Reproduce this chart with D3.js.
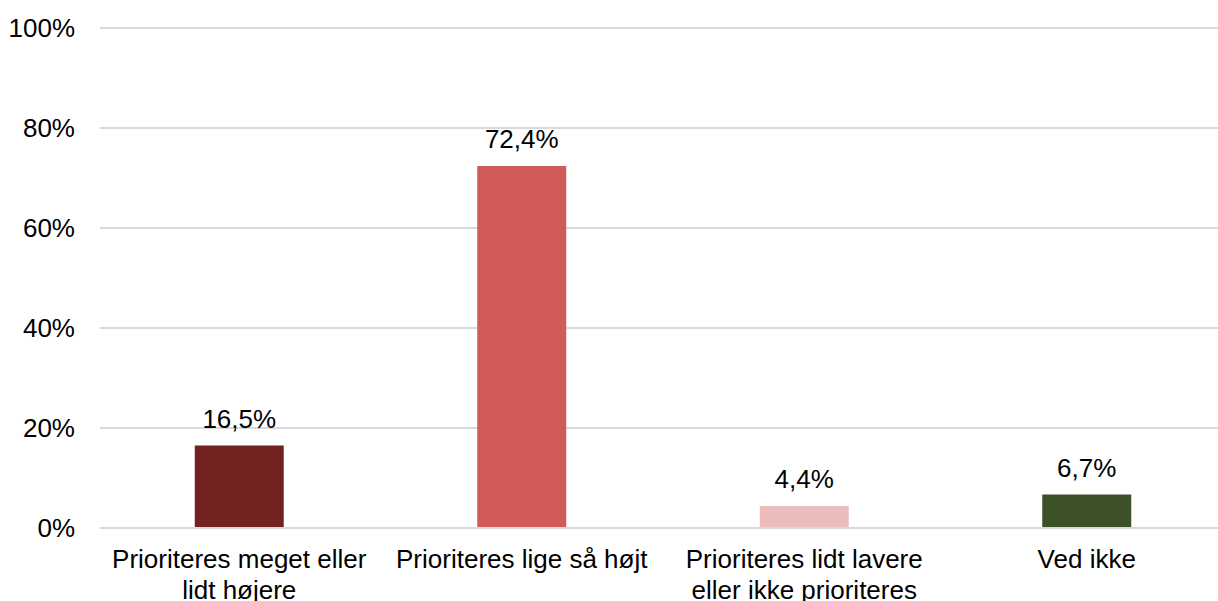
<!DOCTYPE html>
<html><head><meta charset="utf-8">
<script src="https://cdn.jsdelivr.net/npm/d3@7"></script>
<style>body{margin:0;background:#fff;}svg{display:block;font-family:"Liberation Sans",Arial,sans-serif;}</style>
</head><body>
<svg id="c" width="1218" height="601"></svg>
<script>
const categories = [["Prioriteres meget eller","lidt højere"],["Prioriteres lige så højt"],["Prioriteres lidt lavere","eller ikke prioriteres"],["Ved ikke"]];
const values = [16.5, 72.4, 4.4, 6.7];
const valueLabels = ["16,5%","72,4%","4,4%","6,7%"];
const colors = ["#722221","#d15b59","#ecbcbc","#3c5128"];
const yTicks = [0,20,40,60,80,100];

const svg = d3.select("#c");
const x = d3.scaleBand().domain(d3.range(categories.length)).range([98,1228]).paddingInner(0.685).paddingOuter(0.3425);
const y = d3.scaleLinear().domain([0,100]).range([528,28]);

svg.append("g").selectAll("line").data(yTicks).join("line")
  .attr("x1",100).attr("x2",1218).attr("y1",d=>y(d)).attr("y2",d=>y(d))
  .attr("stroke","#d9d9d9").attr("stroke-width",2);

svg.append("g").selectAll("text").data(yTicks).join("text")
  .attr("x",75).attr("y",d=>y(d)).attr("dy","0.35em").attr("text-anchor","end")
  .attr("font-size",26).attr("fill","#000").text(d=>d+"%");

svg.append("g").selectAll("rect").data(values).join("rect")
  .attr("x",(d,i)=>x(i)).attr("width",x.bandwidth())
  .attr("y",d=>y(d)).attr("height",d=>y(0)-y(d)-1)
  .attr("fill",(d,i)=>colors[i]);

svg.append("g").selectAll("text").data(values).join("text")
  .attr("x",(d,i)=>x(i)+x.bandwidth()/2).attr("y",d=>y(d)-18)
  .attr("text-anchor","middle").attr("font-size",26).attr("fill","#000")
  .text((d,i)=>valueLabels[i]);

const cl = svg.append("g").selectAll("text").data(categories).join("text")
  .attr("x",(d,i)=>x(i)+x.bandwidth()/2).attr("y",568)
  .attr("text-anchor","middle").attr("font-size",26).attr("fill","#000");
cl.selectAll("tspan").data(d=>d).join("tspan")
  .attr("x",function(){return this.parentNode.getAttribute("x");})
  .attr("dy",(d,j)=>j===0?0:31).text(d=>d);
</script>
</body></html>
